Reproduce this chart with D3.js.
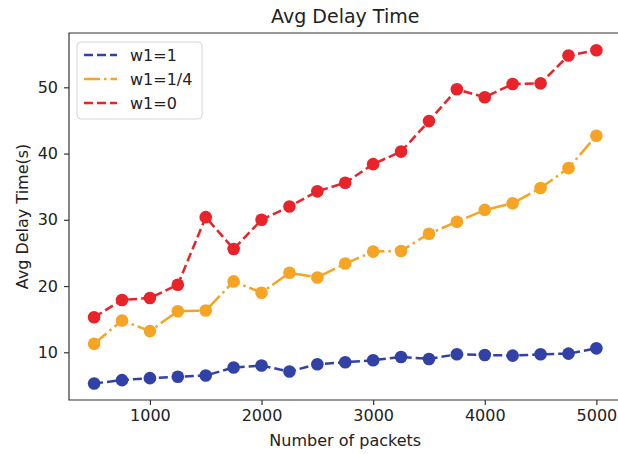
<!DOCTYPE html>
<meta charset="utf-8">
<style>
body { margin: 0; background: #fff; overflow: hidden; }
svg { display: block; }
text { font-family: "DejaVu Sans", sans-serif; fill: #222; }
.axis path, .axis line { stroke: #333; stroke-width: 1.2px; }
.axis text { font-size: 16px; fill: #222; }
</style>
<body>
<svg id="chart" width="618" height="454"></svg>
<script src="https://d3js.org/d3.v7.min.js"></script>
<script>
// packet counts on x
var packets = [500, 750, 1000, 1250, 1500, 1750, 2000, 2250, 2500, 2750, 3000, 3250, 3500, 3750, 4000, 4250, 4500, 4750, 5000];
var w1_1 = [5.3, 5.8, 6.1, 6.3, 6.5, 7.7, 8.0, 7.1, 8.2, 8.5, 8.8, 9.3, 9.0, 9.7, 9.6, 9.5, 9.7, 9.8, 10.6];
var w1_quarter = [11.3, 14.8, 13.2, 16.2, 16.3, 20.7, 19.0, 22.0, 21.3, 23.4, 25.2, 25.3, 27.9, 29.7, 31.5, 32.5, 34.8, 37.8, 42.7];
var w1_0 = [15.3, 17.9, 18.2, 20.2, 30.4, 25.6, 30.0, 32.0, 34.3, 35.6, 38.4, 40.3, 44.9, 49.7, 48.5, 50.5, 50.6, 54.8, 55.6];
var seriesNames = ["w1=1", "w1=1/4", "w1=0"];
var xTicks = [1000, 2000, 3000, 4000, 5000];
var yTicks = [10, 20, 30, 40, 50];

var svg = d3.select("#chart");
var mLeft = 69, mTop = 33, mBottom = 400, mRight = 621.5;

var x = d3.scaleLinear().domain([275, 5225]).range([mLeft, mRight]);
var y = d3.scaleLinear().domain([2.8, 58.2]).range([mBottom, mTop]);

var series = [
  {name: seriesNames[0], values: w1_1, color: "#3141a6", dash: "9,4"},
  {name: seriesNames[1], values: w1_quarter, color: "#f5a424", dash: "16,4,2.5,4"},
  {name: seriesNames[2], values: w1_0, color: "#e8242a", dash: "9,4"}
];

// axes
svg.append("g")
  .attr("class", "axis")
  .attr("transform", "translate(0," + mBottom + ")")
  .call(d3.axisBottom(x).tickValues(xTicks).tickFormat(d3.format("d")).tickSize(5).tickPadding(5).tickSizeOuter(0))
  .call(function(g) { g.select(".domain").remove(); });

svg.append("g")
  .attr("class", "axis")
  .attr("transform", "translate(" + mLeft + ",0)")
  .call(d3.axisLeft(y).tickValues(yTicks).tickFormat(d3.format("d")).tickSize(5).tickPadding(6).tickSizeOuter(0))
  .call(function(g) { g.select(".domain").remove(); });

// spines (right one falls outside the picture)
svg.append("path")
  .attr("d", "M" + mRight + "," + mTop + "H" + mLeft + "V" + mBottom + "H" + mRight)
  .attr("fill", "none").attr("stroke", "#333").attr("stroke-width", 1.2);

var line = d3.line()
  .x(function(d, i) { return x(packets[i]); })
  .y(function(d) { return y(d); });

series.forEach(function(s) {
  svg.append("path")
    .datum(s.values)
    .attr("d", line)
    .attr("fill", "none")
    .attr("stroke", s.color)
    .attr("stroke-width", 2.5)
    .attr("stroke-dasharray", s.dash);
  svg.selectAll(null)
    .data(s.values)
    .enter().append("circle")
    .attr("cx", function(d, i) { return x(packets[i]); })
    .attr("cy", function(d) { return y(d); })
    .attr("r", 6.3)
    .attr("fill", s.color);
});

// title and labels
svg.append("text")
  .attr("x", (mLeft + mRight) / 2).attr("y", 23)
  .attr("text-anchor", "middle")
  .style("font-size", "19px")
  .text("Avg Delay Time");

svg.append("text")
  .attr("x", (mLeft + mRight) / 2).attr("y", 446)
  .attr("text-anchor", "middle")
  .style("font-size", "16px")
  .text("Number of packets");

svg.append("text")
  .attr("transform", "translate(28," + ((mTop + mBottom) / 2) + ") rotate(-90)")
  .attr("text-anchor", "middle")
  .style("font-size", "16px")
  .text("Avg Delay Time(s)");

// legend
var lg = svg.append("g").attr("transform", "translate(77,42)");
lg.append("rect")
  .attr("width", 125).attr("height", 77)
  .attr("rx", 4)
  .attr("fill", "#fff").attr("fill-opacity", 0.8)
  .attr("stroke", "#d6d6d6");

series.forEach(function(s, i) {
  var yy = 13 + i * 24;
  lg.append("line")
    .attr("x1", 7).attr("x2", 40)
    .attr("y1", yy).attr("y2", yy)
    .attr("stroke", s.color)
    .attr("stroke-width", 2.5)
    .attr("stroke-dasharray", s.dash);
  lg.append("text")
    .attr("x", 53).attr("y", yy)
    .attr("dy", "0.35em")
    .style("font-size", "16px")
    .text(s.name);
});
</script>
</body>
